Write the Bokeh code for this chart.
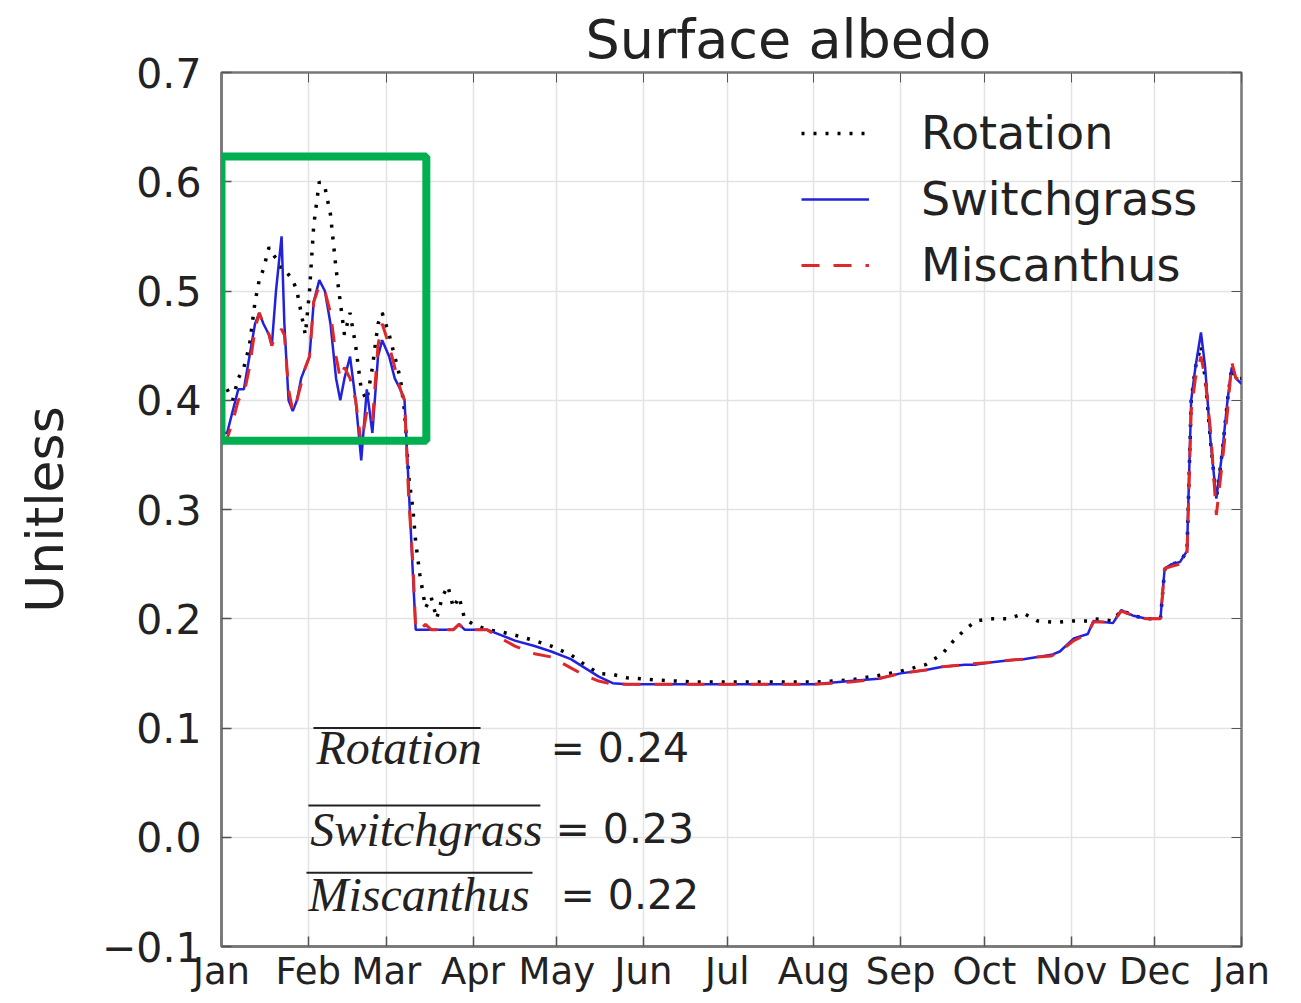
from bokeh.plotting import figure
from bokeh.models import (Legend, LegendItem, BoxAnnotation, LinearAxis, FixedTicker,
                          Label, ColumnDataSource)
from bokeh.embed import file_html
from bokeh.resources import INLINE

# ---------------- data ----------------
day = [0, 2, 4, 6, 8, 10, 12, 13.5, 15, 17, 18, 19.5, 21.5, 22.5, 24, 25.5, 27, 28.5, 30,
       31.5, 33, 35, 37, 39, 41, 42.5, 44, 46, 48, 50, 52, 54, 56, 57.5, 60, 62, 64, 65.5,
       67, 68.5, 69.5, 71, 73, 75, 77, 79, 81, 83, 85, 87, 90, 95, 100, 105, 112, 118, 125,
       130, 135, 140, 145, 155, 170, 190, 212, 225, 235, 243, 252, 258, 262, 266, 270, 275,
       282, 287, 292, 297, 300, 305, 310, 312, 319, 322, 326, 331, 336, 337.5, 340, 343,
       345.5, 347, 348.5, 350.5, 352, 354, 356, 358, 360, 361.5, 363, 365]

rotation = [0.42, 0.41, 0.40, 0.42, 0.43, 0.45, 0.49, 0.51, 0.52, 0.54, 0.535, 0.53, 0.52,
            0.52, 0.515, 0.51, 0.50, 0.48, 0.46, 0.50, 0.56, 0.60, 0.595, 0.57, 0.52, 0.49,
            0.46, 0.48, 0.45, 0.41, 0.40, 0.43, 0.47, 0.48, 0.46, 0.44, 0.42, 0.39, 0.33,
            0.30, 0.27, 0.24, 0.21, 0.22, 0.20, 0.22, 0.23, 0.21, 0.22, 0.20, 0.195, 0.19,
            0.188, 0.185, 0.18, 0.175, 0.167, 0.158, 0.15, 0.149, 0.146, 0.144, 0.142, 0.142,
            0.142, 0.144, 0.148, 0.152, 0.158, 0.168, 0.18, 0.19, 0.198, 0.20, 0.20, 0.205,
            0.198, 0.197, 0.197, 0.198, 0.198, 0.20, 0.198, 0.208, 0.203, 0.20, 0.20, 0.245,
            0.25, 0.252, 0.262, 0.40, 0.43, 0.45, 0.42, 0.36, 0.31, 0.35, 0.40, 0.43, 0.42,
            0.42]

switchgrass = [0.37, 0.37, 0.39, 0.41, 0.41, 0.44, 0.47, 0.48, 0.47, 0.46, 0.45, 0.50, 0.55,
               0.47, 0.40, 0.39, 0.40, 0.42, 0.43, 0.44, 0.49, 0.51, 0.50, 0.47, 0.42, 0.40,
               0.42, 0.44, 0.40, 0.345, 0.41, 0.37, 0.44, 0.455, 0.44, 0.42, 0.41, 0.40, 0.32,
               0.24, 0.19, 0.19, 0.19, 0.19, 0.19, 0.19, 0.19, 0.19, 0.195, 0.19, 0.19, 0.19,
               0.185, 0.18, 0.175, 0.17, 0.163, 0.155, 0.147, 0.141, 0.14, 0.14, 0.14, 0.14,
               0.14, 0.143, 0.145, 0.15, 0.153, 0.156, 0.157, 0.158, 0.158, 0.16, 0.162,
               0.163, 0.165, 0.167, 0.17, 0.182, 0.186, 0.198, 0.196, 0.208, 0.203, 0.20,
               0.20, 0.246, 0.25, 0.252, 0.262, 0.40, 0.43, 0.462, 0.43, 0.36, 0.31, 0.35,
               0.40, 0.43, 0.42, 0.415]

miscanthus = [0.36, 0.365, 0.38, 0.40, 0.405, 0.43, 0.465, 0.48, 0.47, 0.46, 0.45, 0.46,
              0.465, 0.46, 0.41, 0.39, 0.40, 0.415, 0.43, 0.44, 0.49, 0.505, 0.50, 0.48, 0.44,
              0.42, 0.43, 0.42, 0.40, 0.36, 0.39, 0.38, 0.45, 0.47, 0.45, 0.43, 0.41, 0.40,
              0.31, 0.25, 0.19, 0.19, 0.195, 0.19, 0.19, 0.195, 0.19, 0.19, 0.195, 0.19, 0.19,
              0.19, 0.182, 0.175, 0.168, 0.165, 0.155, 0.148, 0.143, 0.14, 0.14, 0.14, 0.14,
              0.14, 0.14, 0.142, 0.145, 0.15, 0.153, 0.156, 0.157, 0.158, 0.159, 0.16, 0.162,
              0.163, 0.165, 0.166, 0.17, 0.18, 0.186, 0.197, 0.197, 0.207, 0.203, 0.20, 0.20,
              0.246, 0.248, 0.25, 0.26, 0.39, 0.42, 0.44, 0.42, 0.37, 0.295, 0.34, 0.39,
              0.435, 0.42, 0.42]

month_days = [0, 31, 59, 90, 120, 151, 181, 212, 243, 273, 304, 334, 365]
month_labels = ["Jan", "Feb", "Mar", "Apr", "May", "Jun", "Jul", "Aug", "Sep", "Oct",
                "Nov", "Dec", "Jan"]
y_ticks = [-0.1, 0.0, 0.1, 0.2, 0.3, 0.4, 0.5, 0.6, 0.7]
y_labels = ["\u22120.1", "0.0", "0.1", "0.2", "0.3", "0.4", "0.5", "0.6", "0.7"]

series_names = ["Rotation", "Switchgrass", "Miscanthus"]
mean_values = ["0.24", "0.23", "0.22"]

# ---------------- figure ----------------
FONT = "DejaVu Sans"
TXT = "#222222"
p = figure(width=1285, height=995, x_range=(0, 365), y_range=(-0.1, 0.7),
           output_backend="svg", toolbar_location=None,
           min_border_left=221, min_border_right=44, min_border_top=72,
           min_border_bottom=46)

p.title.text = "Surface albedo"
p.title.text_font = FONT
p.title.text_font_size = "54px"
p.title.text_font_style = "normal"
p.title.text_color = TXT
p.title.align = "left"
p.title.offset = 364
p.title.standoff = 4

p.outline_line_color = "#777777"
p.outline_line_width = 2.5

p.xaxis.ticker = FixedTicker(ticks=month_days)
p.xaxis.major_label_overrides = {d: l for d, l in zip(month_days, month_labels)}
p.yaxis.ticker = FixedTicker(ticks=y_ticks)
p.yaxis.major_label_overrides = {v: l for v, l in zip(y_ticks, y_labels)}

for ax in (p.xaxis, p.yaxis):
    ax.axis_line_color = "#777777"
    ax.axis_line_width = 2.5
    ax.major_tick_in = 10
    ax.major_tick_out = 0
    ax.major_tick_line_color = "#555555"
    ax.major_tick_line_width = 1.5
    ax.minor_tick_line_color = None
    ax.major_label_text_font = FONT
    ax.major_label_text_color = TXT

p.yaxis.major_label_text_font_size = "41px"
p.yaxis.major_label_standoff = 20
p.xaxis.major_label_text_font_size = "37px"
p.xaxis.major_label_standoff = 3
p.yaxis.axis_label = "Unitless"
p.yaxis.axis_label_text_font = FONT
p.yaxis.axis_label_text_font_size = "52px"
p.yaxis.axis_label_text_font_style = "normal"
p.yaxis.axis_label_standoff = 24
p.yaxis.axis_label_text_color = TXT

# ticks on top and right (no labels)
top_ax = LinearAxis(ticker=FixedTicker(ticks=month_days), major_label_text_font_size="1px",
                    major_label_text_color=None,
                    axis_line_color=None, major_tick_in=10, major_tick_out=0,
                    major_tick_line_color="#555555", minor_tick_line_color=None,
                    major_label_standoff=0)
right_ax = LinearAxis(ticker=FixedTicker(ticks=y_ticks), major_label_text_font_size="1px",
                      major_label_text_color=None,
                      axis_line_color=None, major_tick_in=10, major_tick_out=0,
                      major_tick_line_color="#555555", minor_tick_line_color=None,
                      major_label_standoff=0)
p.add_layout(top_ax, "above")
p.add_layout(right_ax, "right")

p.xgrid.ticker = FixedTicker(ticks=month_days)
p.ygrid.ticker = FixedTicker(ticks=y_ticks)
p.grid.grid_line_color = "#e3e3e3"
p.grid.grid_line_width = 1.5

src = ColumnDataSource(dict(day=day, rot=rotation, sw=switchgrass, mis=miscanthus))
r_rot = p.line("day", "rot", source=src, line_color="black", line_width=3.5,
               line_dash="3 9")
r_sw = p.line("day", "sw", source=src, line_color="#2222dd", line_width=2.5)
r_mis = p.line("day", "mis", source=src, line_color="#e02828", line_width=3,
               line_dash="18 14")

# legend: (x, y) = bottom-left corner in pixels from the frame's bottom-left
legend = Legend(items=[LegendItem(label=series_names[0], renderers=[r_rot]),
                       LegendItem(label=series_names[1], renderers=[r_sw]),
                       LegendItem(label=series_names[2], renderers=[r_mis])],
                location=(570, 644))
legend.label_text_font = FONT
legend.label_text_font_size = "46px"
legend.label_text_color = TXT
legend.glyph_width = 68
legend.glyph_height = 40
legend.label_standoff = 52
legend.spacing = 12
legend.padding = 10
legend.margin = 0
legend.border_line_alpha = 0
legend.background_fill_alpha = 0
p.add_layout(legend)

# mean annotations (positions in data units)
name_x = [34, 31.8, 31.1]
name_y = [0.082, 0.0075, -0.0526]
bar_x0 = [32.9, 31.1, 30.4]
bar_x1 = [92.7, 114.1, 111.3]
bar_y = [0.100, 0.029, -0.0326]
eq_x = [117.7, 119.5, 121.3]
for i in range(3):
    p.add_layout(Label(x=name_x[i], y=name_y[i], text=series_names[i],
                       text_font="Liberation Serif", text_font_style="italic",
                       text_font_size="48px", text_baseline="middle", text_color=TXT))
    p.add_layout(Label(x=eq_x[i], y=name_y[i], text="= " + mean_values[i],
                       text_font=FONT, text_font_size="41px", text_baseline="middle",
                       text_color=TXT))
p.segment(x0=bar_x0, y0=bar_y, x1=bar_x1, y1=bar_y, line_color=TXT, line_width=2)

# green highlight box
p.add_layout(BoxAnnotation(left=0, right=73.3, bottom=0.363, top=0.623,
                           fill_alpha=0, line_color="#00b050", line_width=8,
                           line_alpha=1))

open("out.html", "w").write(file_html(p, INLINE))
